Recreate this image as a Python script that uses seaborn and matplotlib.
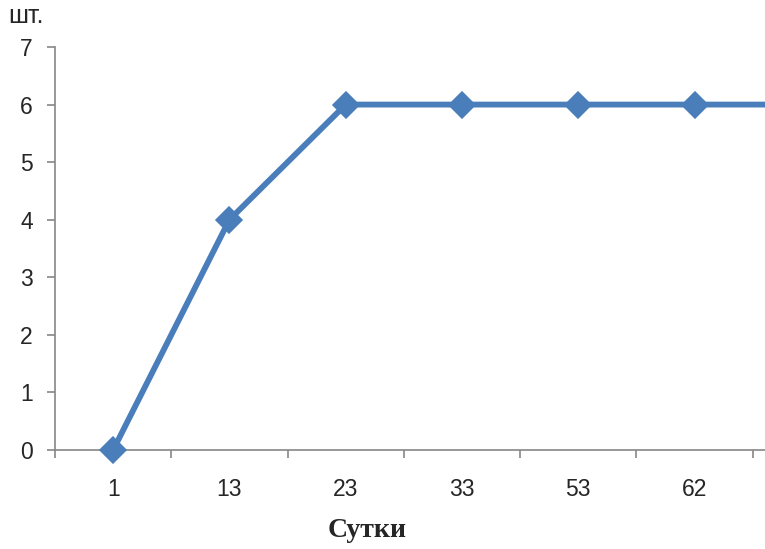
import matplotlib
matplotlib.use("Agg")
import numpy as np
import seaborn as sns
from matplotlib import pyplot as plt
from matplotlib.ticker import FixedLocator

# days on the x axis; the last category is cut off by the right edge of the picture
days = ["1", "13", "23", "33", "53", "62", ""]
counts = [0, 4, 6, 6, 6, 6, 6]
y_ticks = [0, 1, 2, 3, 4, 5, 6, 7]

line_color = "#4A7EBB"
axis_color = "#868686"

sns.set_style("white")
plt.rcParams["font.family"] = ["Liberation Sans", "DejaVu Sans"]

fig = plt.figure(figsize=(7.65, 5.49), dpi=100)
# plot area runs past the right border, as in the reference
ax = fig.add_axes([55 / 765, 99 / 549, 814 / 765, 403 / 549])

sns.pointplot(x=days, y=counts, ax=ax, color=line_color, markers="D",
              linestyles="-", errorbar=None, markersize=11, linewidth=4.2)
for ln in ax.lines:
    ln.set_clip_on(False)
    ln.set_zorder(5)

ax.set_xlim(-0.5, len(days) - 0.5)
ax.set_ylim(0, 7)
ax.set_yticks(y_ticks)
ax.set_yticklabels([str(t) for t in y_ticks], fontsize=16.5)
ax.set_xticks(range(len(days)))
ax.set_xticklabels(days, fontsize=16.5)
ax.xaxis.set_minor_locator(FixedLocator(np.arange(-0.5, len(days), 1.0)))

ax.tick_params(axis="x", which="major", length=0, pad=20)
ax.tick_params(axis="x", which="minor", length=6, width=1.2, color=axis_color, direction="out", bottom=True)
ax.tick_params(axis="y", which="major", length=6, width=1.2, color=axis_color, direction="out", left=True, pad=10)

for side in ["top", "right"]:
    ax.spines[side].set_visible(False)
for side in ["left", "bottom"]:
    ax.spines[side].set_color(axis_color)
    ax.spines[side].set_linewidth(1.2)
ax.grid(False)
ax.set_xlabel("")
ax.set_ylabel("")

fig.text(8 / 765, 1 - 23 / 549, "шт.", fontsize=18, ha="left", va="baseline")
fig.text(367 / 765, 1 - 537 / 549, "Сутки", fontsize=20, fontweight="bold",
         family=["Liberation Serif", "DejaVu Serif"], ha="center", va="baseline")

fig.savefig("out.png", dpi=100)
